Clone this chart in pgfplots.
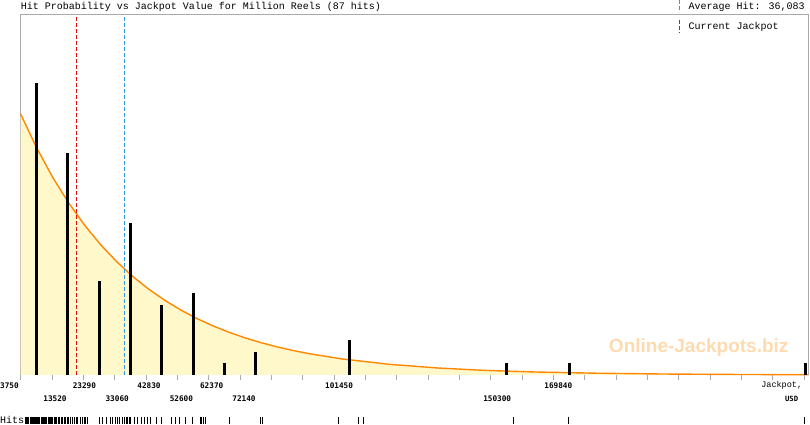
\documentclass[border=0pt]{standalone}
\usepackage{pgfplots}
\pgfplotsset{compat=1.18}
\usepackage{fontspec}
\setmainfont{Liberation Mono}
\newfontfamily\tickfont{DejaVu Sans Mono}
\newfontfamily\wmfont{Liberation Sans}
\definecolor{framegray}{HTML}{AAAAAA}
\definecolor{fillyellow}{HTML}{FFF8CA}
\definecolor{curveorange}{HTML}{FF8800}
\definecolor{jpred}{HTML}{DD1111}
\definecolor{avgblue}{HTML}{3399DD}
\definecolor{wmcolor}{HTML}{FFDAAE}
\begin{document}
\begin{tikzpicture}[x=1pt,y=1pt]
\useasboundingbox (0,0) rectangle (810,425);
% watermark
\node[font=\wmfont\bfseries\fontsize{19}{19}\selectfont, text=wmcolor, inner sep=0] at (698.7,77) {Online-Jackpots.biz};
\begin{axis}[
  at={(20.7pt,50pt)}, anchor=south west,
  scale only axis, width=787.8pt, height=360pt,
  xmin=3750, xmax=249400, ymin=0, ymax=30.77,
  axis line style={draw=framegray, line width=1pt},
  xtick={3750,13520,23290,33060,42830,52600,62370,72140,81910,91680,101450,111220,120990,130760,140530,150300,160070,169840,179610,189380,199150,208920,218690,228460,238230,248000},
  xticklabels={},
  scaled x ticks=false,
  ytick=\empty,
  tick pos=left,
  tick align=outside,
  major tick length=5pt,
  x tick style={draw=framegray, line width=1pt},
  clip=false,
]
% fill under exponential curve
\addplot[draw=none, fill=fillyellow] coordinates {
(3750,22.30) (8750,19.40) (13750,16.88) (18750,14.69) (23750,12.78) (28750,11.11)
(33750,9.67) (38750,8.41) (43750,7.32) (48750,6.37) (53750,5.54) (58750,4.82)
(63750,4.19) (68750,3.65) (73750,3.17) (78750,2.76) (83750,2.40) (88750,2.09)
(93750,1.82) (103750,1.38) (118750,0.91) (133750,0.60) (148750,0.39) (163750,0.26)
(183750,0.15) (203750,0.085) (223750,0.049) (249400,0.024)
} \closedcycle;
% curve
\addplot[curveorange, line width=1.4pt] coordinates {
(3750,22.30) (8750,19.40) (13750,16.88) (18750,14.69) (23750,12.78) (28750,11.11)
(33750,9.67) (38750,8.41) (43750,7.32) (48750,6.37) (53750,5.54) (58750,4.82)
(63750,4.19) (68750,3.65) (73750,3.17) (78750,2.76) (83750,2.40) (88750,2.09)
(93750,1.82) (103750,1.38) (118750,0.91) (133750,0.60) (148750,0.39) (163750,0.26)
(183750,0.15) (203750,0.085) (223750,0.049) (249400,0.024)
};
% current jackpot and average hit
\addplot[jpred, line width=1pt, dash pattern=on 4pt off 2pt] coordinates {(21200,0) (21200,30.7)};
\addplot[avgblue, line width=1pt, dash pattern=on 4pt off 2pt] coordinates {(36083,0) (36083,30.7)};
% hits per bin
\addplot[ycomb, black, line width=3pt, mark=none] coordinates {
(8635,25) (18405,19) (28175,8) (37945,13) (47715,6) (57485,7) (67255,1) (77025,2)
(106335,3) (155185,1) (174725,1) (248400,1)
};
% rug of individual hits
\addplot[only marks, black, mark=|, mark size=3.5pt, mark options={line width=1pt}] coordinates {
(5100,-3.87) (5400,-3.87) (5700,-3.87) (6000,-3.87) (6300,-3.87) (6700,-3.87) (7000,-3.87)
(7400,-3.87) (7800,-3.87) (8100,-3.87) (8400,-3.87) (8700,-3.87) (9000,-3.87) (9300,-3.87)
(9700,-3.87) (10100,-3.87) (10400,-3.87) (10800,-3.87) (11200,-3.87) (11500,-3.87)
(11900,-3.87) (12300,-3.87) (12600,-3.87) (13000,-3.87) (13400,-3.87)
(13700,-3.87) (14200,-3.87) (14600,-3.87) (15000,-3.87) (15500,-3.87) (15900,-3.87)
(16400,-3.87) (16800,-3.87) (17300,-3.87) (17800,-3.87) (18300,-3.87) (18800,-3.87)
(19300,-3.87) (19800,-3.87) (20400,-3.87) (21000,-3.87) (21600,-3.87) (22300,-3.87) (23000,-3.87)
(23490,-3.87) (24100,-3.87) (24700,-3.87) (28470,-3.87) (29400,-3.87) (30350,-3.87) (31600,-3.87) (32500,-3.87)
(33300,-3.87) (34000,-3.87) (34500,-3.87) (35400,-3.87) (36200,-3.87) (36600,-3.87) (37000,-3.87)
(37700,-3.87) (38100,-3.87) (39300,-3.87) (40300,-3.87) (41400,-3.87) (42300,-3.87)
(43400,-3.87) (44300,-3.87) (46000,-3.87) (47700,-3.87) (50700,-3.87) (52000,-3.87)
(53200,-3.87) (55000,-3.87) (57300,-3.87) (59900,-3.87) (60200,-3.87) (60600,-3.87) (61300,-3.87)
(68800,-3.87) (78400,-3.87) (79100,-3.87)
(102800,-3.87) (109000,-3.87) (110600,-3.87)
(157300,-3.87) (174700,-3.87) (248000,-3.87)
};
% tick labels, first row
\begin{scope}[every node/.style={font=\tickfont\bfseries\fontsize{7.7}{8}\selectfont, inner sep=0}]
\node[anchor=west, xshift=-20.7pt, yshift=-10.5pt] at (axis cs:3750,0) {3750};
\node[xshift=1pt, yshift=-10.5pt] at (axis cs:23290,0) {23290};
\node[xshift=3pt, yshift=-10.5pt] at (axis cs:42830,0) {42830};
\node[xshift=3pt, yshift=-10.5pt] at (axis cs:62370,0) {62370};
\node[xshift=5pt, yshift=-10.5pt] at (axis cs:101450,0) {101450};
\node[xshift=5pt, yshift=-10.5pt] at (axis cs:169840,0) {169840};
\node[xshift=3pt, yshift=-23.5pt] at (axis cs:13520,0) {13520};
\node[xshift=2.5pt, yshift=-23.5pt] at (axis cs:33060,0) {33060};
\node[xshift=4pt, yshift=-23.5pt] at (axis cs:52600,0) {52600};
\node[xshift=4pt, yshift=-23.5pt] at (axis cs:72140,0) {72140};
\node[xshift=6.5pt, yshift=-23.5pt] at (axis cs:150300,0) {150300};
\end{scope}
\end{axis}
% axis name
\node[anchor=east, inner sep=0, font=\fontsize{8.5}{9}\selectfont] at (802.3,40) {Jackpot,};
\node[anchor=east, inner sep=0, font=\tickfont\bfseries\fontsize{7.2}{8}\selectfont] at (798.3,26.5) {USD};
% title
\node[anchor=west, inner sep=0, font=\fontsize{10}{12}\selectfont] at (20.7,418) {Hit Probability vs Jackpot Value for Million Reels (87 hits)};
% legend
\draw[avgblue, line width=1pt, dash pattern=on 4pt off 2pt] (679.3,425) -- (679.3,413);
\node[anchor=west, inner sep=0, font=\fontsize{10}{12}\selectfont] at (688.3,418) {Average Hit: 36,083};
\draw[jpred, line width=1pt, dash pattern=on 4pt off 2pt] (679.3,405) -- (679.3,392);
\node[anchor=west, inner sep=0, font=\fontsize{10}{12}\selectfont] at (688.3,398) {Current Jackpot};
% hits label
\node[anchor=west, inner sep=0, font=\fontsize{10}{12}\selectfont] at (0,4.7) {Hits};
\end{tikzpicture}
\end{document}
